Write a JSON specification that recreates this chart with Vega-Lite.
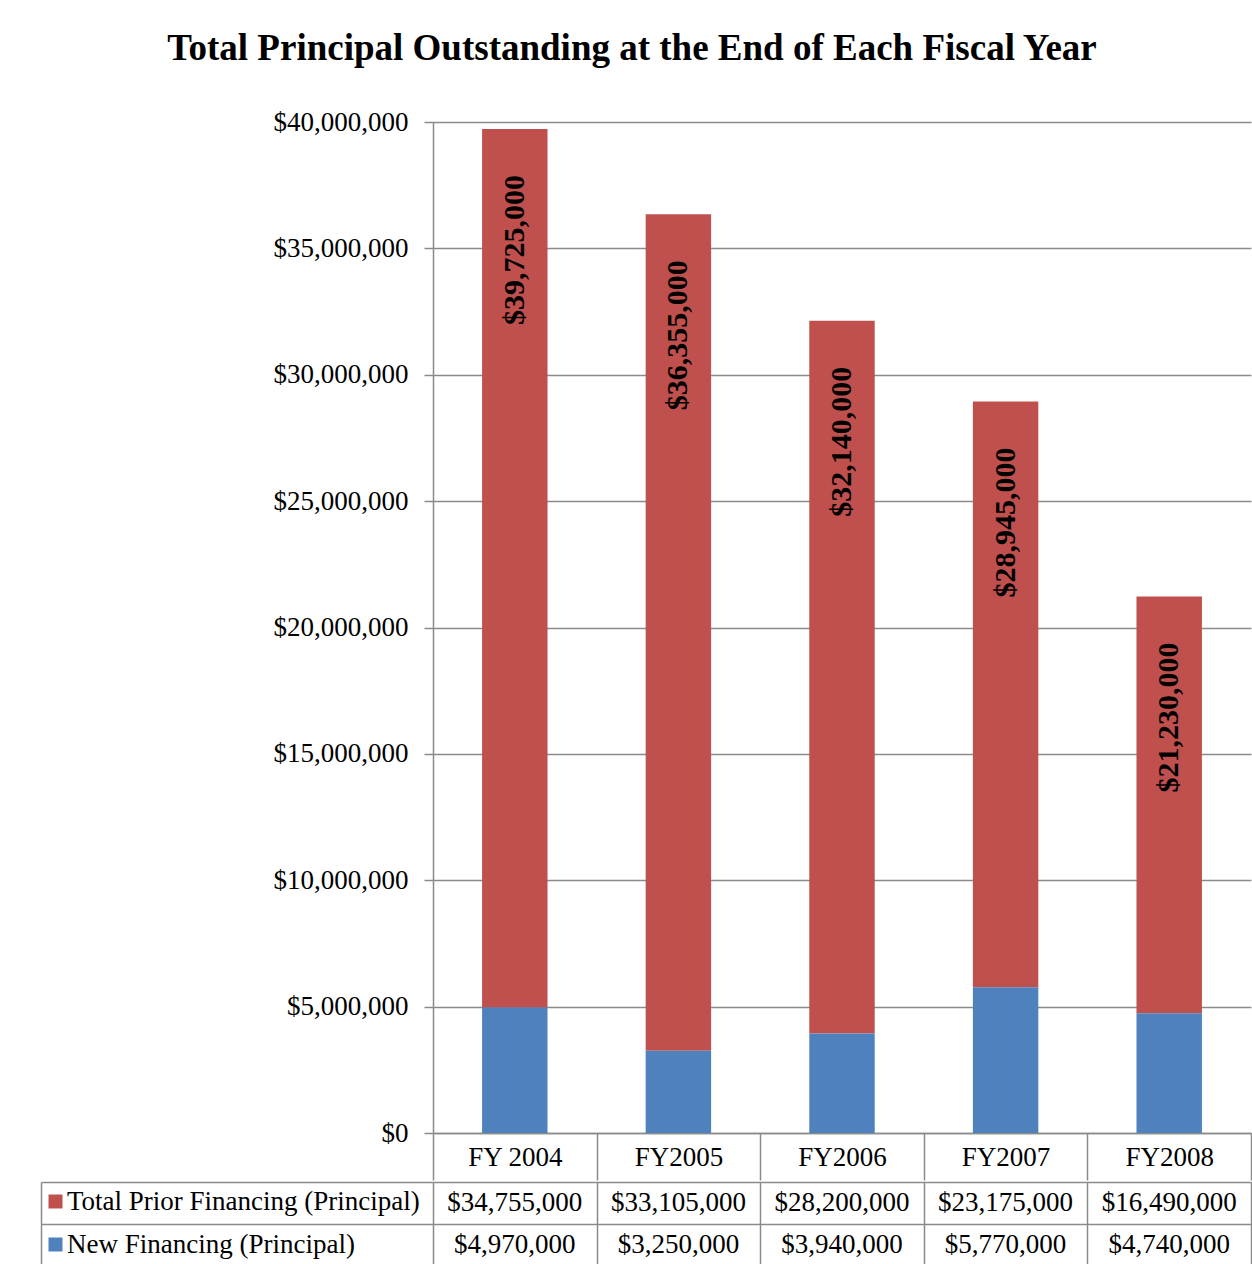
{
  "$schema": "https://vega.github.io/schema/vega-lite/v6.json",
  "padding": {"left": 40, "top": 30, "right": 0, "bottom": 0},
  "background": "white",
  "title": {
    "text": "Total Principal Outstanding at the End of Each Fiscal Year",
    "font": "Liberation Serif",
    "fontSize": 37,
    "fontWeight": "bold",
    "color": "black",
    "anchor": "middle",
    "offset": 40,
    "dx": -14
  },
  "data": {
    "values": [
      {"year": "FY 2004", "series": "Total Prior Financing (Principal)", "value": 34755000},
      {"year": "FY2005", "series": "Total Prior Financing (Principal)", "value": 33105000},
      {"year": "FY2006", "series": "Total Prior Financing (Principal)", "value": 28200000},
      {"year": "FY2007", "series": "Total Prior Financing (Principal)", "value": 23175000},
      {"year": "FY2008", "series": "Total Prior Financing (Principal)", "value": 16490000},
      {"year": "FY 2004", "series": "New Financing (Principal)", "value": 4970000},
      {"year": "FY2005", "series": "New Financing (Principal)", "value": 3250000},
      {"year": "FY2006", "series": "New Financing (Principal)", "value": 3940000},
      {"year": "FY2007", "series": "New Financing (Principal)", "value": 5770000},
      {"year": "FY2008", "series": "New Financing (Principal)", "value": 4740000}
    ]
  },
  "spacing": 0,
  "config": {
    "view": {"stroke": null},
    "font": "Liberation Serif"
  },
  "vconcat": [
    {
      "width": 818,
      "height": 1011,
      "layer": [
        {
          "mark": {"type": "bar", "width": {"band": 0.4}},
          "encoding": {
            "x": {
              "field": "year",
              "type": "nominal",
              "scale": {"type": "band", "paddingInner": 0, "paddingOuter": 0},
              "axis": {
                "title": null,
                "labelAngle": 0,
                "grid": false,
                "tickBand": "extent",
                "ticks": true,
                "tickSize": 47,
                "tickColor": "#8a8a8a",
                "tickWidth": 1.5,
                "domainColor": "#8a8a8a",
                "domainWidth": 1.5,
                "labelFont": "Liberation Serif",
                "labelFontSize": 27,
                "labelColor": "black",
                "labelPadding": -36
              }
            },
            "y": {
              "field": "value",
              "type": "quantitative",
              "stack": "zero",
              "scale": {"domain": [0, 40000000]},
              "axis": {
                "title": null,
                "values": [0, 5000000, 10000000, 15000000, 20000000, 25000000, 30000000, 35000000, 40000000],
                "format": "$,.0f",
                "grid": true,
                "gridColor": "#8a8a8a",
                "gridWidth": 1.5,
                "domainColor": "#8a8a8a",
                "domainWidth": 1.5,
                "tickColor": "#8a8a8a",
                "tickWidth": 1.5,
                "tickSize": 9,
                "labelFont": "Liberation Serif",
                "labelFontSize": 27,
                "labelColor": "black",
                "labelPadding": 16
              }
            },
            "color": {
              "field": "series",
              "type": "nominal",
              "scale": {
                "domain": ["Total Prior Financing (Principal)", "New Financing (Principal)"],
                "range": ["#C0504D", "#4F81BD"]
              },
              "legend": {
                "title": null,
                "orient": "none",
                "legendX": -391,
                "legendY": 1066,
                "symbolType": "square",
                "symbolSize": 196,
                "symbolStrokeWidth": 0,
                "labelFont": "Liberation Serif",
                "labelFontSize": 27,
                "labelColor": "black",
                "labelLimit": 400,
                "labelOffset": -2,
                "rowPadding": 15,
                "padding": 0
              }
            },
            "order": {"field": "series", "sort": "ascending"}
          }
        },
        {
          "transform": [
            {"aggregate": [{"op": "sum", "field": "value", "as": "total"}], "groupby": ["year"]}
          ],
          "mark": {
            "type": "text",
            "angle": 270,
            "align": "right",
            "baseline": "middle",
            "dx": -46,
            "font": "Liberation Serif",
            "fontWeight": "bold",
            "fontSize": 30,
            "color": "black"
          },
          "encoding": {
            "x": {"field": "year", "type": "nominal"},
            "y": {"field": "total", "type": "quantitative"},
            "text": {"field": "total", "type": "quantitative", "format": "$,.0f"}
          }
        }
      ]
    },
    {
      "width": 818,
      "height": 84,
      "mark": {"type": "text", "font": "Liberation Serif", "fontSize": 27, "color": "black"},
      "encoding": {
        "x": {
          "field": "year",
          "type": "nominal",
          "scale": {"type": "band", "paddingInner": 0, "paddingOuter": 0},
          "axis": {
            "title": null,
            "labels": false,
            "ticks": false,
            "domain": false,
            "grid": true,
            "tickBand": "extent",
            "gridColor": "#8a8a8a",
            "gridWidth": 1.5
          }
        },
        "y": {
          "field": "series",
          "type": "nominal",
          "scale": {
            "type": "band",
            "domain": ["Total Prior Financing (Principal)", "New Financing (Principal)"],
            "paddingInner": 0,
            "paddingOuter": 0
          },
          "axis": {
            "title": null,
            "labels": false,
            "offset": 392,
            "tickSize": -392,
            "tickBand": "extent",
            "tickColor": "#8a8a8a",
            "tickWidth": 1.5,
            "domain": true,
            "domainColor": "#8a8a8a",
            "domainWidth": 1.5,
            "grid": true,
            "gridColor": "#8a8a8a",
            "gridWidth": 1.5
          }
        },
        "text": {"field": "value", "type": "quantitative", "format": "$,.0f"}
      }
    }
  ]
}
